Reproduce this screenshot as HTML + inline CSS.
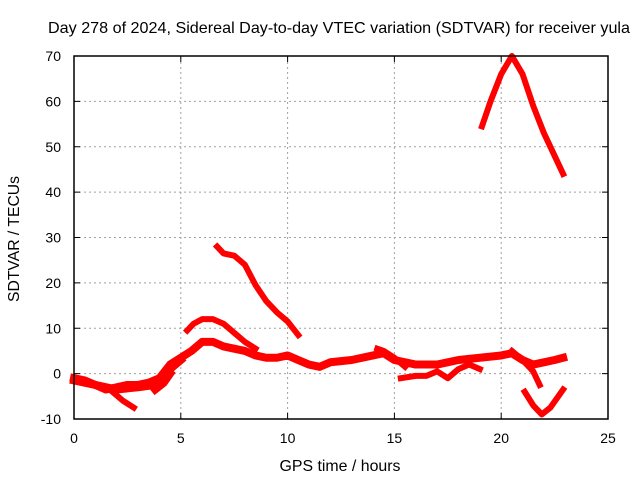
<!DOCTYPE html>
<html><head><meta charset="utf-8"><style>
body{margin:0;background:#fff;}
svg{display:block;font-family:"Liberation Sans",sans-serif;}
</style></head><body>
<svg id="chart" width="640" height="480" viewBox="0 0 640 480">
<rect width="640" height="480" fill="#fff"/>
<text x="339" y="33" font-size="16" text-anchor="middle" textLength="582" lengthAdjust="spacingAndGlyphs">Day 278 of 2024, Sidereal Day-to-day VTEC variation (SDTVAR) for receiver yula</text>
<text x="340" y="471" font-size="16" text-anchor="middle" textLength="121" lengthAdjust="spacingAndGlyphs">GPS time / hours</text>
<text transform="translate(19,239) rotate(-90)" font-size="16" text-anchor="middle" textLength="126" lengthAdjust="spacingAndGlyphs">SDTVAR / TECUs</text>
<g id="grid"></g><g id="marks"></g><g id="axes"></g>
</svg>
<script>
const xTicks=[0,5,10,15,20,25];
const yTicks=[-10,0,10,20,30,40,50,60,70];
const segMain=[[0,-1],[0.5,-1.5],[1,-2.5],[1.5,-3.5],[2,-3],[2.5,-2.5],[3,-2.5],[3.5,-2],[4,-1],[4.5,2],[5,3.5],[5.5,5],[6,7],[6.5,7],[7,6],[7.5,5.5],[8,5],[8.5,4],[9,3.5],[9.5,3.5],[10,4],[10.5,3],[11,2],[11.5,1.5],[12,2.5],[13,3],[14,4],[14.5,4.5],[15,3],[16,2],[17,2],[18,3],[19,3.5],[20,4],[20.5,4.5],[21,3],[21.5,2],[22,2.5],[22.5,3],[22.9,3.5]];
const segLowBranch=[[1.8,-4],[2.3,-6],[2.8,-7.5]];
const segChunk=[[3.8,-3.5],[4.2,-2],[4.5,0]];
const segMid=[[5.3,9.5],[5.6,11],[6,12],[6.5,12],[7,11],[7.5,9],[8,7],[8.5,5.5]];
const segHigh=[[6.7,28],[7,26.5],[7.5,26],[8,24],[8.5,19.5],[9,16],[9.5,13.5],[10,11.5],[10.5,8.5]];
const segTop=[[19.1,54.5],[19.5,60],[20,66],[20.5,70],[21,66],[21.5,59],[22,53],[22.5,48],[22.9,44]];
const segV=[[21.1,-4],[21.5,-7],[21.9,-9],[22.3,-7.5],[22.9,-3.5]];
const segUpper=[[14.2,5.5],[14.5,5],[15,3.5],[15.5,1.5]];
const segLower=[[15.3,-1],[16,-0.5],[16.5,-0.5],[17,0.5],[17.5,-1],[18,1],[18.5,2],[19,1]];
const segDip=[[20.5,5],[21,3],[21.5,0.5],[21.8,-2.5]];
const segEarly=[[0,-1.5],[1,-2.5],[2,-3.5],[3,-3],[3.8,-2.5],[4.5,1],[5,3]];
const series=[["main",segMain,8],["early-band",segEarly,8],["low-branch",segLowBranch,6],["chunk",segChunk,8],["mid",segMid,6],["high",segHigh,6],["top",segTop,6],["v",segV,6],["upper",segUpper,6],["lower",segLower,6],["dip",segDip,6]];
const X0=74,X1=608,Y0=419,Y1=56;
const sx=v=>X0+(v-0)/25*(X1-X0);
const sy=v=>Y0-(v+10)/80*(Y0-Y1);
const NS="http://www.w3.org/2000/svg";
const grid=document.getElementById('grid'),axes=document.getElementById('axes'),marks=document.getElementById('marks');
function mk(tag,attrs,parent){const e=document.createElementNS(NS,tag);for(const k in attrs)e.setAttribute(k,attrs[k]);parent.appendChild(e);return e;}
xTicks.forEach(t=>{
 if(t>0&&t<25){const l=mk('line',{x1:sx(t),x2:sx(t),y1:Y0,y2:Y1,stroke:'#a0a0a0','stroke-dasharray':'2,3'},grid);
 }
 const k=mk('line',{x1:sx(t),x2:sx(t),y1:Y0,y2:Y0-6,stroke:'#000'},axes);
 
 const k2=mk('line',{x1:sx(t),x2:sx(t),y1:Y1,y2:Y1+6,stroke:'#000'},axes);
 
 const tx=mk('text',{x:sx(t),y:443,'font-size':14,'text-anchor':'middle'},axes);tx.textContent=t;
 
});
yTicks.forEach(t=>{
 if(t>-10&&t<70){const l=mk('line',{x1:X0,x2:X1,y1:sy(t),y2:sy(t),stroke:'#a0a0a0','stroke-dasharray':'2,3'},grid);
 }
 const k=mk('line',{x1:X0,x2:X0+6,y1:sy(t),y2:sy(t),stroke:'#000'},axes);
 
 const k2=mk('line',{x1:X1,x2:X1-6,y1:sy(t),y2:sy(t),stroke:'#000'},axes);
 
 const tx=mk('text',{x:61,y:sy(t)+5,'font-size':14,'text-anchor':'end'},axes);tx.textContent=t;
 
});
const fr=mk('rect',{x:X0,y:Y1,width:X1-X0,height:Y0-Y1,fill:'none',stroke:'#000','stroke-width':1.5},axes);

series.forEach(([n,pts,w])=>{
 const p=mk('polyline',{points:pts.map(d=>sx(d[0])+','+sy(d[1])).join(' '),fill:'none',stroke:'#ff0000','stroke-width':w,'stroke-linejoin':'round','stroke-linecap':'square'},marks);
 
 
});
</script>
</body></html>
